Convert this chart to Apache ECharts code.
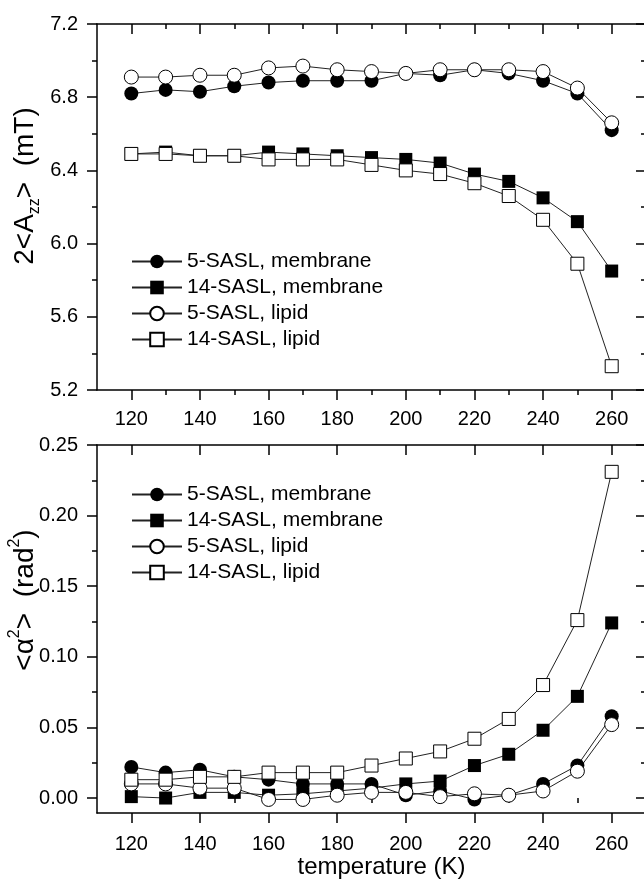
<!DOCTYPE html>
<html>
<head>
<meta charset="utf-8">
<script src="https://cdn.jsdelivr.net/npm/echarts@6/dist/echarts.min.js"></script>
<style>
  html, body { margin: 0; padding: 0; background: #fff; }
  #chart { width: 644px; height: 881px; }
</style>
</head>
<body>
<div id="chart"></div>
<script>
// temperature (K)
const temps = [120, 130, 140, 150, 160, 170, 180, 190, 200, 210, 220, 230, 240, 250, 260];

// top panel: 2<Azz> (mT)
const azzMem5  = [6.82, 6.84, 6.83, 6.86, 6.88, 6.89, 6.89, 6.89, 6.93, 6.92, 6.95, 6.93, 6.89, 6.82, 6.62];
const azzMem14 = [6.49, 6.50, 6.48, 6.48, 6.50, 6.49, 6.48, 6.47, 6.46, 6.44, 6.38, 6.34, 6.25, 6.12, 5.85];
const azzLip5  = [6.91, 6.91, 6.92, 6.92, 6.96, 6.97, 6.95, 6.94, 6.93, 6.95, 6.95, 6.95, 6.94, 6.85, 6.66];
const azzLip14 = [6.49, 6.49, 6.48, 6.48, 6.46, 6.46, 6.46, 6.43, 6.40, 6.38, 6.33, 6.26, 6.13, 5.89, 5.33];

// bottom panel: <alpha^2> (rad^2)
const alphaMem5  = [0.022, 0.018, 0.020, 0.015, 0.013, 0.010, 0.010, 0.010, 0.002, 0.005, -0.001, 0.002, 0.010, 0.023, 0.058];
const alphaMem14 = [0.001, 0.000, 0.004, 0.004, 0.002, 0.003, 0.005, 0.007, 0.010, 0.012, 0.023, 0.031, 0.048, 0.072, 0.124];
const alphaLip5  = [0.010, 0.010, 0.007, 0.007, -0.001, -0.001, 0.002, 0.004, 0.004, 0.001, 0.003, 0.002, 0.005, 0.019, 0.052];
const alphaLip14 = [0.013, 0.013, 0.015, 0.015, 0.018, 0.018, 0.018, 0.023, 0.028, 0.033, 0.042, 0.056, 0.080, 0.126, 0.231];

const names = ['5-SASL, membrane', '14-SASL, membrane', '5-SASL, lipid', '14-SASL, lipid'];

// tick values
const xMajor = [120, 140, 160, 180, 200, 220, 240, 260];
const xMinor = [130, 150, 170, 190, 210, 230, 250];
const azzMajor = [5.2, 5.6, 6.0, 6.4, 6.8, 7.2];
const azzMinor = [5.4, 5.8, 6.2, 6.6, 7.0];
const alphaMajor = [0, 0.05, 0.10, 0.15, 0.20, 0.25];
const alphaMinor = [0.025, 0.075, 0.125, 0.175, 0.225];

const FONT = '"Liberation Sans", Arial, sans-serif';
const lineBlack = { color: '#000', width: 1.5 };

// 4 axes per side pair: main (labels), minor ticks, opposite main, opposite minor
function frameAxes(kind, gridIndex, min, max, major, minor, fmt, labelMargin, extra) {
  const pos = kind === 'x' ? ['bottom', 'top'] : ['left', 'right'];
  const base = { type: 'value', gridIndex: gridIndex, min: min, max: max, splitLine: { show: false } };
  return [
    Object.assign({}, base, {
      position: pos[0],
      axisLine: { show: true, onZero: false, lineStyle: lineBlack },
      axisTick: { show: true, inside: false, length: 10, customValues: major, lineStyle: lineBlack },
      axisLabel: {
        show: true, customValues: major, formatter: fmt, margin: labelMargin,
        fontSize: 20, color: '#000', fontFamily: FONT
      }
    }, extra),
    Object.assign({}, base, {
      position: pos[0],
      axisLine: { show: false },
      axisTick: { show: true, inside: false, length: 5, customValues: minor, lineStyle: lineBlack },
      axisLabel: { show: false }
    }),
    Object.assign({}, base, {
      position: pos[1],
      axisLine: { show: true, onZero: false, lineStyle: lineBlack },
      axisTick: { show: true, inside: true, length: 10, customValues: major, lineStyle: lineBlack },
      axisLabel: { show: false }
    }),
    Object.assign({}, base, {
      position: pos[1],
      axisLine: { show: false },
      axisTick: { show: true, inside: true, length: 5, customValues: minor, lineStyle: lineBlack },
      axisLabel: { show: false }
    })
  ];
}

const titleStyle = {
  fontSize: 28, color: '#000', fontFamily: FONT, lineHeight: 36,
  rich: {
    sub: { fontSize: 16, color: '#000', fontFamily: FONT, lineHeight: 16, verticalAlign: 'bottom' },
    sup: { fontSize: 16, color: '#000', fontFamily: FONT, lineHeight: 18, verticalAlign: 'top' }
  }
};

const xAxes = []
  .concat(frameAxes('x', 0, 110, 270, xMajor, xMinor, v => String(v), 19, {}))
  .concat(frameAxes('x', 1, 110, 270, xMajor, xMinor, v => String(v), 21, {
    name: 'temperature (K)', nameLocation: 'middle', nameGap: 41, nameMoveOverlap: false,
    nameTextStyle: { fontSize: 24, lineHeight: 26, color: '#000', fontFamily: FONT, padding: [0, 0, 0, 20] }
  }));

const yAxes = []
  .concat(frameAxes('y', 0, 5.2, 7.2, azzMajor, azzMinor, v => v.toFixed(1), 19, {
    name: '2<A{sub|zz}>  (mT)', nameLocation: 'middle', nameGap: 54, nameMoveOverlap: false,
    nameTextStyle: Object.assign({}, titleStyle, { padding: [0, 0, 0, 42] })
  }))
  .concat(frameAxes('y', 1, -0.0106, 0.25, alphaMajor, alphaMinor, v => v.toFixed(2), 19, {
    name: '<α{sup|2}>  (rad{sup|2})', nameLocation: 'middle', nameGap: 54, nameMoveOverlap: false,
    nameTextStyle: Object.assign({}, titleStyle, { padding: [0, 0, 0, 58] })
  }));

const markers = [
  { symbol: 'circle', symbolSize: 14, itemStyle: { color: '#000' } },
  { symbol: 'rect', symbolSize: 13, itemStyle: { color: '#000' } },
  { symbol: 'circle', symbolSize: 14, itemStyle: { color: '#fff', borderColor: '#000', borderWidth: 1 } },
  { symbol: 'rect', symbolSize: 13, itemStyle: { color: '#fff', borderColor: '#000', borderWidth: 1 } }
];

function makeSeries(values, i, panel) {
  return Object.assign({
    name: names[i],
    type: 'line',
    xAxisIndex: panel * 4,
    yAxisIndex: panel * 4,
    data: temps.map((t, k) => [t, values[k]]),
    lineStyle: { color: '#222', width: 1 },
    showAllSymbol: true,
    emphasis: { disabled: true }
  }, markers[i]);
}

const series = [
  makeSeries(azzMem5, 0, 0), makeSeries(azzMem14, 1, 0),
  makeSeries(azzLip5, 2, 0), makeSeries(azzLip14, 3, 0),
  makeSeries(alphaMem5, 0, 1), makeSeries(alphaMem14, 1, 1),
  makeSeries(alphaLip5, 2, 1), makeSeries(alphaLip14, 3, 1)
];

function legendAt(top) {
  return {
    data: names, orient: 'vertical', left: 126, top: top,
    itemWidth: 50, itemHeight: 17, itemGap: 5, selectedMode: false,
    textStyle: { fontSize: 21, lineHeight: 21, color: '#000', fontFamily: FONT }
  };
}

const option = {
  animation: false,
  backgroundColor: '#fff',
  grid: [
    { left: 97, right: -2, top: 24, height: 366, outerBoundsMode: 'none' },
    { left: 97, right: -2, top: 445, height: 368, outerBoundsMode: 'none' }
  ],
  legend: [legendAt(246), legendAt(479)],
  xAxis: xAxes,
  yAxis: yAxes,
  series: series
};

const chart = echarts.init(document.getElementById('chart'));
chart.setOption(option);
</script>
</body>
</html>
